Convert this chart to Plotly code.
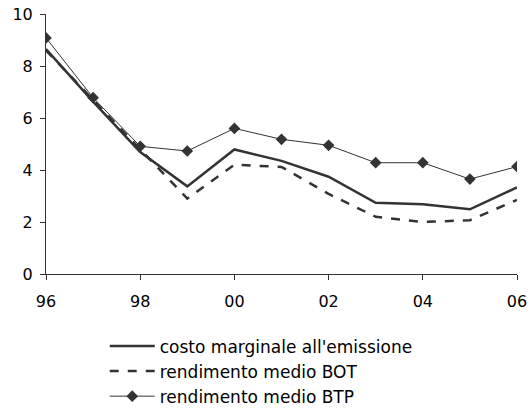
import plotly.graph_objects as go

years = [1996, 1997, 1998, 1999, 2000, 2001, 2002, 2003, 2004, 2005, 2006]
costo_marginale = [8.65, 6.63, 4.69, 3.37, 4.79, 4.35, 3.74, 2.74, 2.68, 2.49, 3.33]
rendimento_bot = [8.6, 6.7, 4.8, 2.9, 4.2, 4.12, 3.08, 2.2, 2.0, 2.07, 2.85]
rendimento_btp = [9.08, 6.78, 4.91, 4.73, 5.6, 5.18, 4.95, 4.28, 4.28, 3.65, 4.13]
tick_vals = [1996, 1998, 2000, 2002, 2004, 2006]
tick_text = ["96", "98", "00", "02", "04", "06"]

col = "#333333"
fig = go.Figure()
fig.add_trace(go.Scatter(x=years, y=costo_marginale, mode="lines",
                         name="costo marginale all'emissione",
                         line=dict(color=col, width=2.5)))
fig.add_trace(go.Scatter(x=years, y=rendimento_bot, mode="lines",
                         name="rendimento medio BOT",
                         line=dict(color=col, width=2.5, dash="dash")))
fig.add_trace(go.Scatter(x=years, y=rendimento_btp, mode="lines+markers",
                         name="rendimento medio BTP",
                         line=dict(color=col, width=1),
                         marker=dict(symbol="diamond", size=9, color=col)))

fig.update_layout(
    width=529, height=408,
    margin=dict(l=46, r=12, t=14, b=134, autoexpand=False),
    paper_bgcolor="white", plot_bgcolor="white",
    font=dict(family="DejaVu Sans", size=16, color="black"),
    showlegend=True,
    legend=dict(x=0.198, y=-0.54, xref="container", yref="paper",
                xanchor="left", yanchor="bottom",
                tracegroupgap=0, itemwidth=45, font=dict(size=17)),
    xaxis=dict(range=[1996, 2006], tickvals=tick_vals, ticktext=tick_text,
               showgrid=False, zeroline=False, showline=True, linecolor=col,
               linewidth=1, ticks="outside", ticklen=5, tickcolor=col,
               automargin=False, ticklabelstandoff=8, ticklabeloverflow="allow"),
    yaxis=dict(range=[0, 10], dtick=2, showgrid=False, zeroline=False,
               showline=True, linecolor=col, linewidth=1, ticks="outside",
               ticklen=5, tickcolor=col, automargin=False, ticklabelstandoff=4,
               ticklabeloverflow="allow"),
)
fig.write_html("out.html", config={"displayModeBar": False},
               post_script="document.body.style.margin='0';")
